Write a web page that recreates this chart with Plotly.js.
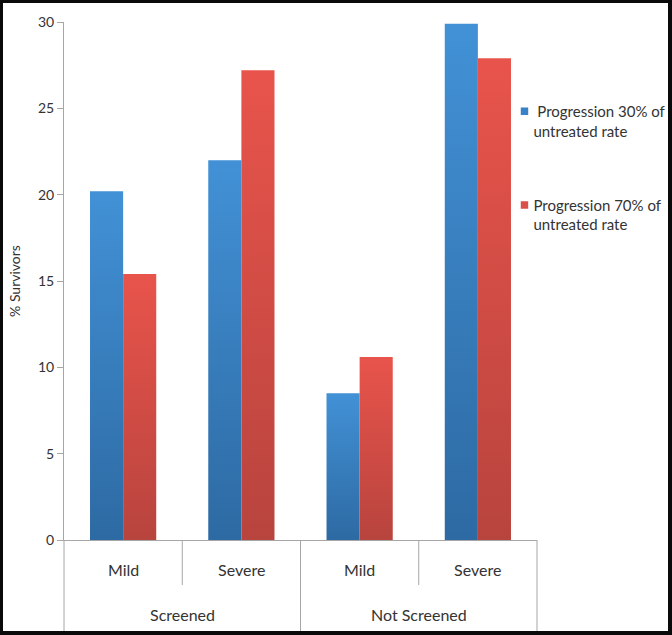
<!DOCTYPE html>
<html>
<head>
<meta charset="utf-8">
<script src="https://cdn.plot.ly/plotly-3.0.1.min.js"></script>
<style>
  html, body { margin: 0; padding: 0; background: #0a0a0a; width: 672px; height: 635px; overflow: hidden; }
  #chart { position: absolute; left: 3px; top: 3px; width: 665px; height: 628px; background: #fff; }
</style>
</head>
<body>
<div id="chart"></div>
<script>
const groups = ["Screened", "Screened", "Not Screened", "Not Screened"];
const severity = ["Mild", "Severe", "Mild", "Severe"];
const series1Name = "\u00a0Progression 30% of<br>untreated rate";
const series2Name = "Progression 70% of<br>untreated rate";
const series1Values = [20.2, 22.0, 8.5, 29.9];
const series2Values = [15.4, 27.2, 10.6, 27.9];
const yTickVals = [0, 5, 10, 15, 20, 25, 30];

const FONT = "Lato, 'Open Sans', sans-serif";
const TXT = "#333333";
const AX = "#a6a6a6";
const PLOT_H = 518, MB = 91;

const traces = [
  { type: "bar", x: [groups, severity], y: series1Values, name: series1Name,
    legend: "legend", marker: { color: "#3a82c8" }, hoverinfo: "y" },
  { type: "bar", x: [groups, severity], y: series2Values, name: series2Name,
    legend: "legend2", marker: { color: "#d9504a" }, hoverinfo: "y" }
];

// category labels and dividers (decorations) derived from the category arrays
const n = severity.length;
const annotations = [];
const shapes = [];
severity.forEach((s, i) => {
  annotations.push({ xref: "paper", yref: "paper", x: (i + 0.5) / n, y: -29 / PLOT_H,
    text: s, showarrow: false, xanchor: "center", yanchor: "middle",
    font: { family: FONT, size: 16, color: TXT } });
});
let start = 0;
for (let i = 1; i <= n; i++) {
  if (i === n || groups[i] !== groups[start]) {
    annotations.push({ xref: "paper", yref: "paper", x: (start + i) / 2 / n, y: -74 / PLOT_H,
      text: groups[start], showarrow: false, xanchor: "center", yanchor: "middle",
      font: { family: FONT, size: 16, color: TXT } });
    start = i;
  }
}
for (let i = 0; i <= n; i++) {
  const full = (i === 0 || i === n || groups[i] !== groups[i - 1]);
  shapes.push({ type: "line", xref: "paper", yref: "paper", x0: i / n, x1: i / n,
    y0: 0, y1: full ? -MB / PLOT_H : -45 / PLOT_H, line: { color: AX, width: 1 } });
}

const legendCommon = { xanchor: "left", yanchor: "top", valign: "top",
  font: { family: FONT, size: 15, color: TXT }, bgcolor: "rgba(0,0,0,0)", itemwidth: 30 };

const layout = {
  width: 665, height: 628,
  margin: { l: 61, r: 131, t: 19, b: MB, autoexpand: false },
  paper_bgcolor: "#ffffff", plot_bgcolor: "#ffffff",
  font: { family: FONT, color: TXT, size: 14 },
  barmode: "group", bargap: 0.44, bargroupgap: 0,
  showlegend: true,
  legend: Object.assign({ x: 0.908, y: 0.859 }, legendCommon),
  legend2: Object.assign({ x: 0.908, y: 0.678 }, legendCommon),
  xaxis: { type: "multicategory", showline: true, linecolor: AX, linewidth: 1,
           ticks: "", showgrid: false, zeroline: false, showticklabels: false,
           showdividers: false },
  yaxis: { range: [0, 30], tickvals: yTickVals, showline: true, linecolor: AX, linewidth: 1,
           ticks: "outside", ticklen: 6, tickcolor: AX, showgrid: false, zeroline: false,
           tickfont: { family: FONT, size: 14, color: TXT },
           title: { text: "% Survivors", font: { family: FONT, size: 14, color: TXT }, standoff: 14 } },
  annotations: annotations,
  shapes: shapes
};

function addGradients(gd) {
  const svg = gd.querySelector("svg.main-svg");
  if (!svg) return;
  const ns = "http://www.w3.org/2000/svg";
  let defs = svg.querySelector("defs");
  if (!defs) { defs = document.createElementNS(ns, "defs"); svg.insertBefore(defs, svg.firstChild); }
  const grads = [["gBlue", "#4291d6", "#2d6aa3"], ["gRed", "#e8544b", "#b8443e"]];
  grads.forEach(([id, top, bot]) => {
    const lg = document.createElementNS(ns, "linearGradient");
    lg.setAttribute("id", id);
    lg.setAttribute("x1", "0"); lg.setAttribute("y1", "0");
    lg.setAttribute("x2", "0"); lg.setAttribute("y2", "1");
    const s1 = document.createElementNS(ns, "stop");
    s1.setAttribute("offset", "0"); s1.setAttribute("stop-color", top);
    const s2 = document.createElementNS(ns, "stop");
    s2.setAttribute("offset", "1"); s2.setAttribute("stop-color", bot);
    lg.appendChild(s1); lg.appendChild(s2); defs.appendChild(lg);
  });
  const tr = gd.querySelectorAll(".barlayer .trace.bars");
  tr.forEach((t, i) => {
    const id = i === 0 ? "gBlue" : "gRed";
    t.querySelectorAll("path").forEach(p => { p.style.fill = "url(#" + id + ")"; });
  });
  // smaller legend swatches placed closer to the text, as in the reference
  gd.querySelectorAll(".legendpoints path").forEach(p => {
    const prev = p.getAttribute("transform") || "";
    p.setAttribute("transform", "translate(11,0) " + prev + " scale(0.62)");
  });
}

Plotly.newPlot("chart", traces, layout, { displayModeBar: false, staticPlot: true })
  .then(gd => addGradients(gd));
</script>
</body>
</html>
